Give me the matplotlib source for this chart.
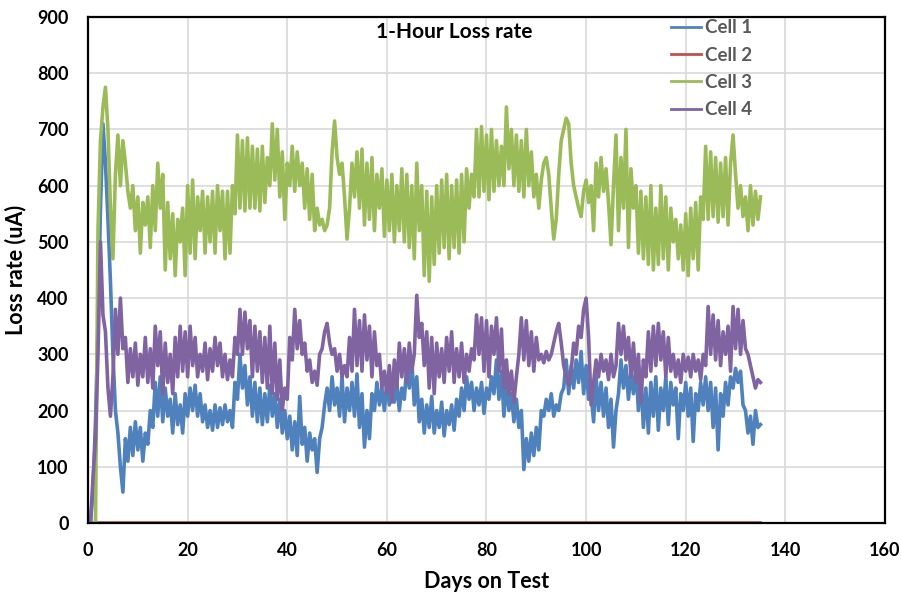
import numpy as np
import matplotlib
matplotlib.use("Agg")
import matplotlib.pyplot as plt

plt.rcParams['font.family'] = ['Lato', 'DejaVu Sans']
plt.rcParams['font.weight'] = 'bold'

# readings every half day, day 0 .. 135
cell1 = [0, 0, 60, 180, 350, 560, 710, 640, 540, 430, 300, 200, 160, 100, 55, 150, 110, 170, 120, 180,
         130, 170, 110, 160, 140, 200, 170, 250, 190, 260, 180, 240, 190, 220, 160, 230, 175, 210, 160, 230,
         190, 240, 200, 245, 190, 230, 180, 210, 170, 200, 165, 210, 170, 205, 175, 210, 180, 200, 170, 250,
         220, 300, 240, 280, 210, 260, 190, 250, 180, 240, 175, 230, 180, 245, 190, 230, 170, 220, 160, 200,
         150, 190, 130, 180, 120, 225, 140, 170, 110, 160, 130, 150, 90, 150, 170, 210, 240, 200, 260, 210,
         240, 190, 260, 180, 240, 200, 250, 190, 265, 170, 230, 135, 200, 150, 230, 200, 250, 210, 240, 200,
         250, 210, 260, 215, 250, 200, 240, 220, 280, 240, 290, 210, 260, 180, 220, 160, 210, 170, 225, 160,
         200, 170, 215, 155, 200, 175, 210, 165, 220, 190, 240, 200, 260, 220, 250, 200, 240, 210, 250, 195,
         240, 220, 260, 230, 290, 220, 270, 190, 250, 200, 230, 180, 220, 170, 200, 95, 150, 110, 160, 120,
         170, 130, 200, 190, 220, 200, 230, 190, 210, 200, 230, 240, 290, 230, 280, 240, 290, 250, 305, 230,
         280, 220, 230, 180, 260, 200, 250, 190, 240, 170, 220, 135, 200, 230, 290, 240, 280, 220, 270, 230,
         275, 200, 260, 170, 240, 160, 250, 190, 260, 165, 240, 200, 260, 175, 250, 210, 240, 150, 230, 200,
         250, 190, 240, 145, 230, 200, 250, 210, 260, 200, 250, 170, 240, 130, 230, 190, 250, 210, 260, 240,
         275, 250, 270, 210, 200, 160, 190, 140, 200, 170, 175]
cell3 = [0, 0, 0, 0, 520, 680, 740, 775, 700, 560, 470, 620, 690, 600, 680, 640, 590, 560, 600, 520,
         580, 480, 570, 530, 580, 490, 600, 520, 640, 560, 620, 450, 570, 470, 550, 440, 540, 500, 560, 440,
         600, 480, 610, 470, 580, 520, 590, 480, 580, 500, 590, 480, 600, 520, 590, 470, 590, 480, 600, 550,
         690, 560, 680, 555, 685, 560, 670, 560, 665, 555, 670, 570, 650, 600, 710, 610, 700, 580, 660, 540,
         640, 600, 670, 590, 660, 600, 640, 560, 630, 540, 620, 520, 560, 530, 540, 520, 530, 560, 660, 715,
         650, 620, 640, 580, 505, 560, 640, 580, 660, 560, 665, 530, 640, 540, 650, 520, 620, 560, 630, 510,
         610, 520, 620, 500, 600, 520, 630, 500, 620, 490, 600, 470, 640, 520, 600, 440, 590, 430, 580, 460,
         600, 480, 610, 490, 620, 470, 600, 490, 610, 480, 620, 500, 630, 560, 620, 580, 700, 580, 705, 590,
         690, 575, 700, 590, 680, 600, 670, 600, 740, 630, 700, 600, 690, 590, 680, 580, 700, 600, 660, 580,
         620, 560, 610, 640, 650, 620, 560, 505, 540, 620, 680, 700, 720, 710, 640, 600, 580, 560, 545, 590,
         610, 570, 600, 520, 640, 580, 650, 590, 630, 570, 495, 600, 690, 520, 650, 560, 700, 490, 630, 560,
         600, 480, 590, 470, 580, 460, 600, 450, 560, 460, 600, 470, 580, 450, 560, 500, 540, 470, 530, 450,
         550, 440, 560, 470, 570, 450, 580, 540, 670, 540, 660, 545, 650, 535, 640, 545, 650, 530, 640, 690,
         620, 560, 600, 545, 580, 520, 600, 530, 590, 540, 580]
cell4 = [0, 0, 80, 150, 300, 500, 370, 340, 240, 190, 260, 380, 300, 400, 310, 330, 250, 310, 260, 320,
         245, 300, 260, 330, 250, 310, 240, 350, 280, 340, 230, 320, 250, 300, 230, 330, 260, 350, 270, 340,
         260, 350, 280, 330, 260, 300, 270, 320, 255, 310, 270, 330, 280, 320, 260, 300, 255, 290, 260, 330,
         300, 380, 300, 375, 310, 360, 260, 350, 270, 340, 250, 330, 240, 350, 230, 320, 220, 290, 200, 240,
         220, 330, 290, 380, 310, 360, 300, 320, 270, 290, 250, 270, 245, 300, 310, 340, 355, 320, 300, 310,
         270, 300, 260, 280, 260, 330, 270, 380, 280, 360, 270, 370, 290, 350, 260, 340, 280, 300, 240, 270,
         230, 280, 215, 290, 240, 320, 260, 310, 250, 320, 270, 300, 405, 330, 355, 280, 340, 240, 330, 230,
         320, 260, 310, 250, 330, 270, 340, 250, 310, 260, 320, 250, 300, 270, 310, 290, 370, 300, 365, 270,
         360, 260, 350, 300, 365, 270, 345, 240, 290, 230, 270, 215, 260, 300, 365, 290, 360, 280, 340, 270,
         330, 290, 300, 285, 305, 290, 300, 320, 340, 355, 320, 280, 260, 245, 270, 320, 300, 350, 330, 380,
         400, 330, 210, 250, 290, 260, 300, 270, 290, 255, 300, 260, 280, 355, 300, 350, 290, 330, 260, 320,
         250, 300, 215, 290, 260, 340, 270, 350, 280, 355, 290, 340, 260, 330, 270, 300, 260, 290, 250, 300,
         270, 295, 260, 300, 270, 290, 255, 300, 280, 385, 300, 370, 290, 360, 280, 340, 300, 350, 270, 385,
         310, 380, 300, 360, 310, 300, 280, 260, 240, 255, 250]
cell2_days = [0, 135]
cell2 = [0, 0]

days = np.arange(len(cell1)) * 0.5

fig = plt.figure(figsize=(9.01, 5.96), dpi=100)
ax = fig.add_axes([0.0977, 0.1225, 0.8845, 0.849])

ax.plot(days, cell1, color='#4F81BD', lw=2.6, label='Cell 1')
ax.plot(cell2_days, cell2, color='#C0504D', lw=2.6, label='Cell 2')
ax.plot(days[:len(cell3)], cell3, color='#9BBB59', lw=2.6, label='Cell 3')
ax.plot(days[:len(cell4)], cell4, color='#8064A2', lw=2.6, label='Cell 4')

ax.set_xlim(0, 160)
ax.set_ylim(0, 900)
ax.set_xticks(range(0, 161, 20))
ax.set_yticks(range(0, 901, 100))
ax.grid(True, color='#D9D9D9', lw=1.2)
ax.set_axisbelow(True)
ax.tick_params(length=0, labelsize=13)
ax.tick_params(axis='x', pad=14)
ax.tick_params(axis='y', pad=14)
for sp in ax.spines.values():
    sp.set_color('black')
    sp.set_linewidth(1.6)

ax.set_xlabel('Days on Test', fontsize=15.5, fontweight='bold', labelpad=8)
ax.set_ylabel('Loss rate (uA)', fontsize=15.5, fontweight='bold', labelpad=8)
ax.text(0.46, 0.97, '1-Hour Loss rate', transform=ax.transAxes, ha='center', va='center',
        fontsize=15, fontweight='bold')

leg = ax.legend(loc='upper left', bbox_to_anchor=(0.722, 1.01), frameon=False, fontsize=13.5,
                handlelength=1.6, handletextpad=0.2, labelspacing=0.55, borderaxespad=0)
for txt in leg.get_texts():
    txt.set_color('#595959')
for ln in leg.get_lines():
    ln.set_linewidth(2)

fig.savefig('out.png', dpi=100)
